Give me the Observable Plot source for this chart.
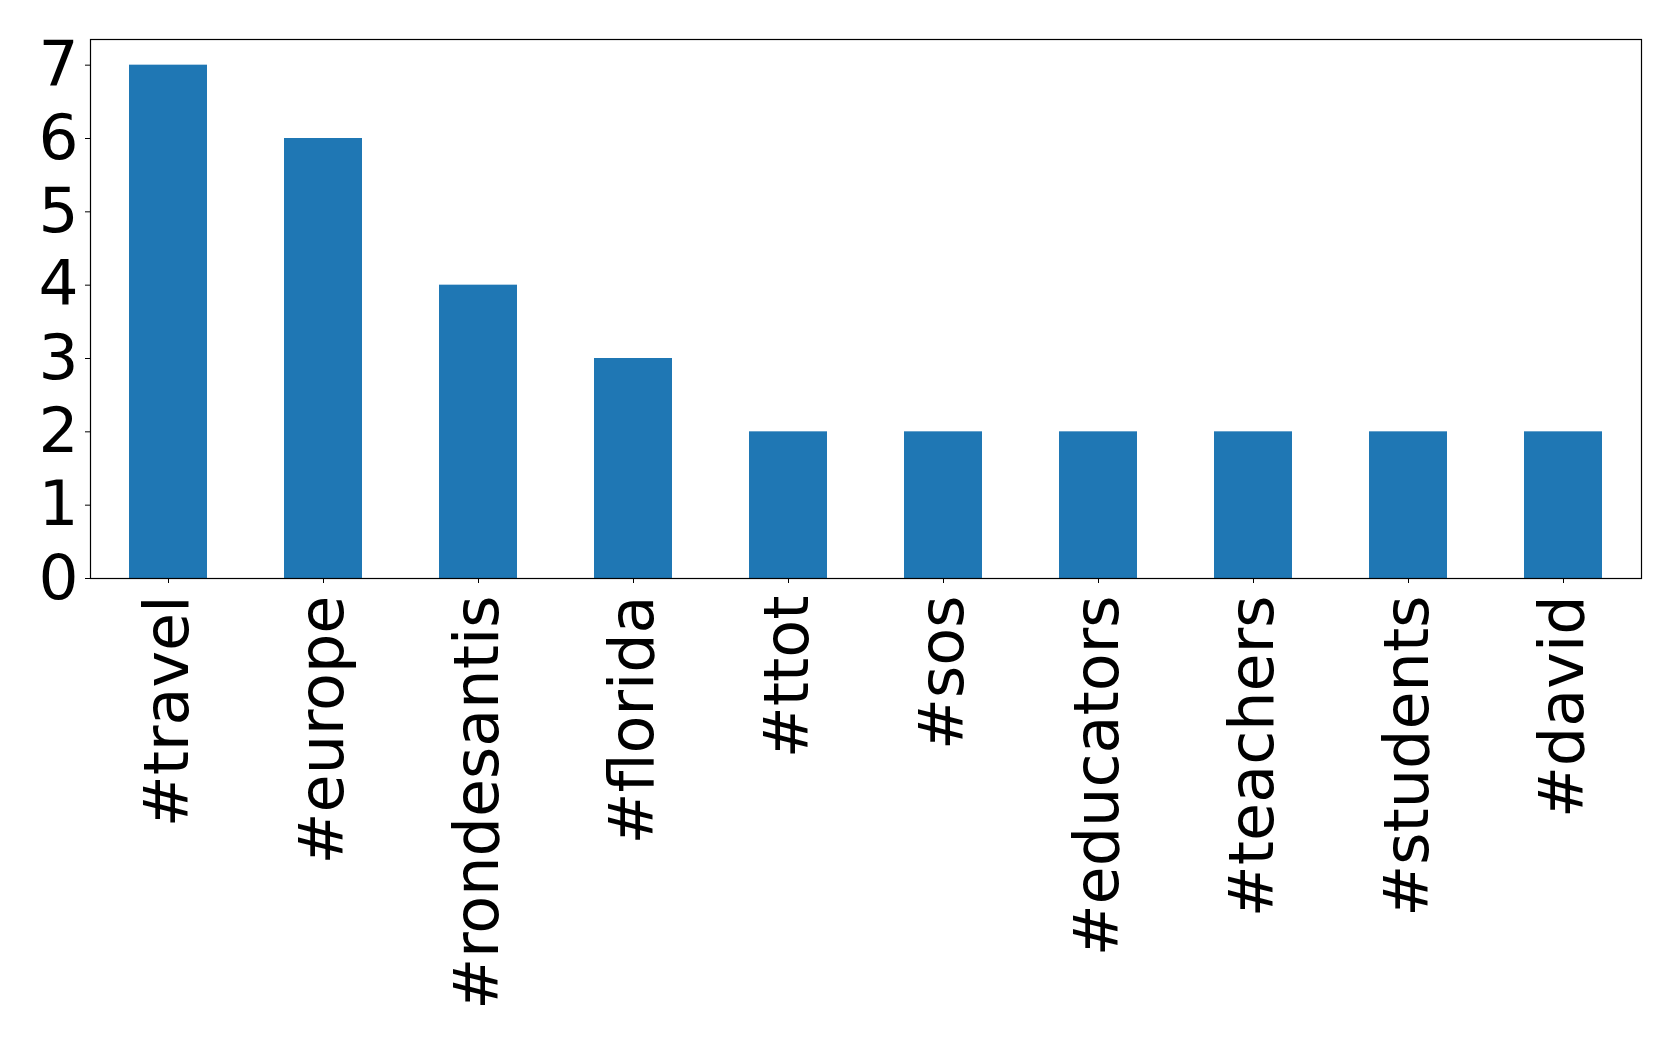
<!DOCTYPE html>
<html>
<head>
<meta charset="utf-8">
<script src="https://cdn.jsdelivr.net/npm/d3@7"></script>
<script src="https://cdn.jsdelivr.net/npm/@observablehq/plot@0.6"></script>
<style>
  html, body { margin: 0; padding: 0; background: #fff; }
  #chart svg { display: block; }
</style>
</head>
<body>
<div id="chart"></div>
<script>
const hashtags = ["#travel", "#europe", "#rondesantis", "#florida", "#ttot", "#sos", "#educators", "#teachers", "#students", "#david"];
const counts = [7, 6, 4, 3, 2, 2, 2, 2, 2, 2];
const yTicks = [0, 1, 2, 3, 4, 5, 6, 7];

const data = hashtags.map((h, i) => ({tag: h, count: counts[i]}));

const chart = Plot.plot({
  width: 1679,
  height: 1045,
  marginLeft: 90,
  marginRight: 38,
  marginTop: 39,
  marginBottom: 467,
  style: {fontFamily: "DejaVu Sans", fontSize: "63px", color: "#000", background: "#fff"},
  x: {domain: hashtags, paddingInner: 0.5, paddingOuter: 0.25, label: null},
  y: {domain: [0, 7.35], label: null},
  marks: [
    Plot.barY(data, {x: "tag", y: "count", fill: "#1f77b4"}),
    Plot.axisY({ticks: yTicks, tickSize: 5, tickPadding: 7, fontSize: 63, label: null, tickFormat: d => String(d)}),
    Plot.axisX({tickSize: 5, tickPadding: 12, tickRotate: -90, fontSize: 62, label: null}),
    Plot.frame({stroke: "#000", strokeWidth: 1.2})
  ]
});
document.getElementById("chart").appendChild(chart);
</script>
</body>
</html>
